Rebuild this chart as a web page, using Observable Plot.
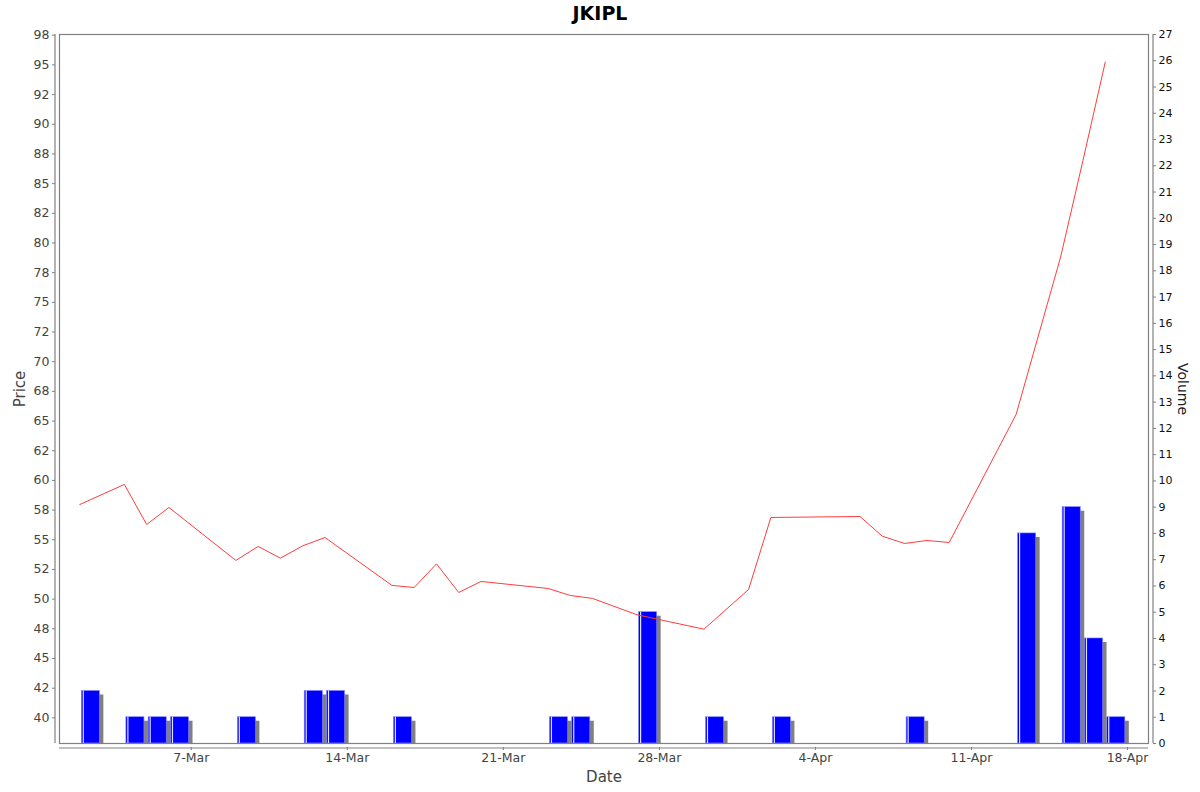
<!DOCTYPE html>
<html>
<head>
<meta charset="utf-8">
<script src="https://cdn.jsdelivr.net/npm/d3@7"></script>
<script src="https://cdn.jsdelivr.net/npm/@observablehq/plot@0.6"></script>
<style>
  html, body { margin: 0; padding: 0; background: #fff; }
  #chart { position: relative; width: 1200px; height: 792px; font-family: "DejaVu Sans", sans-serif; }
  #chart svg { position: absolute; left: 0; top: 0; background: transparent; }
  #title { position: absolute; left: 0; top: 2px; width: 1200px; text-align: center; font: bold 19px "DejaVu Sans", sans-serif; color: #000; z-index: 3; }
</style>
</head>
<body>
<div id="chart"><div id="title">JKIPL</div></div>
<script>
// ---- data ----
const priceDates = ["2020-03-02","2020-03-04","2020-03-05","2020-03-06","2020-03-09","2020-03-10","2020-03-11","2020-03-12","2020-03-13","2020-03-16","2020-03-17","2020-03-18","2020-03-19","2020-03-20","2020-03-23","2020-03-24","2020-03-25","2020-03-27","2020-03-30","2020-04-01","2020-04-02","2020-04-06","2020-04-07","2020-04-08","2020-04-09","2020-04-10","2020-04-13","2020-04-15","2020-04-16","2020-04-17"];
const prices = [57.97,59.66,56.29,57.72,53.26,54.44,53.45,54.49,55.19,51.16,50.98,52.97,50.56,51.49,50.9,50.31,50.06,48.68,47.47,50.81,56.88,56.96,55.3,54.69,54.94,54.77,65.55,78.83,86.95,95.23];

const volumeDates = ["2020-03-02","2020-03-04","2020-03-05","2020-03-06","2020-03-09","2020-03-12","2020-03-13","2020-03-16","2020-03-23","2020-03-24","2020-03-27","2020-03-30","2020-04-02","2020-04-08","2020-04-13","2020-04-15","2020-04-16","2020-04-17"];
const volumes = [2,1,1,1,1,2,2,1,1,1,5,1,1,1,8,9,4,1];

const xTickDates = ["2020-03-07","2020-03-14","2020-03-21","2020-03-28","2020-04-04","2020-04-11","2020-04-18"];
const xTickLabels = ["7-Mar","14-Mar","21-Mar","28-Mar","4-Apr","11-Apr","18-Apr"];
const priceTicks = [40,42.5,45,47.5,50,52.5,55,57.5,60,62.5,65,67.5,70,72.5,75,77.5,80,82.5,85,87.5,90,92.5,95,97.5];
const priceTickLabels = ["40","42","45","48","50","52","55","58","60","62","65","68","70","72","75","78","80","82","85","88","90","92","95","98"];
const volumeTicks = [0,1,2,3,4,5,6,7,8,9,10,11,12,13,14,15,16,17,18,19,20,21,22,23,24,25,26,27];

// ---- build tables ----
const DAY = 864e5;
const parse = s => new Date(s + "T00:00:00Z");
const priceData = priceDates.map((d, i) => ({date: parse(d), price: prices[i]}));
const volData = volumeDates.map((d, i) => {
  const t = parse(d).getTime();
  return {x1: new Date(t + 0.09 * DAY), x2: new Date(t + 0.9 * DAY), v: volumes[i]};
});
const xDomain = [new Date(parse("2020-03-01").getTime() + 0.09 * DAY), new Date(parse("2020-04-18").getTime() + 0.94 * DAY)];
const priceDomain = [37.84, 97.56];
const volDomain = [0, 27];
const tickLabelMap = new Map(priceTicks.map((t, i) => [t, priceTickLabels[i]]));
const xLabelMap = new Map(xTickDates.map((d, i) => [parse(d).getTime(), xTickLabels[i]]));

const common = {
  width: 1200, height: 792,
  marginLeft: 59, marginRight: 52, marginTop: 34, marginBottom: 49,
  style: {fontFamily: "DejaVu Sans, sans-serif", background: "transparent", overflow: "visible"}
};

// volume layer (right axis)
const volPlot = Plot.plot({
  ...common,
  x: {type: "utc", domain: xDomain, axis: null},
  y: {domain: volDomain, axis: null},
  marks: [
    Plot.rect(volData, {x1: "x1", x2: "x2", y1: 0, y2: "v", fill: "#808080", dx: 4, dy: 4, clip: true}),
    Plot.rect(volData, {x1: "x1", x2: "x2", y1: 0, y2: "v", fill: "#0000ff", stroke: "#8080ff", strokeWidth: 0.6}),
    Plot.ruleX(volData, {x: "x1", y1: 0, y2: "v", dx: 1.5, stroke: "#e0e0ff", strokeWidth: 1.2}),
    Plot.ruleX([xDomain[1]], {dx: 4.5, stroke: "#808080", strokeWidth: 1.2}),
    Plot.axisY({anchor: "right", ticks: volumeTicks, tickSize: 3, dx: 4, tickPadding: 3, fontSize: 11, stroke: "#808080", fill: "#111", label: null, tickFormat: d => String(d)}),
    Plot.text(["Volume"], {frameAnchor: "right", textAnchor: "middle", dx: 34, rotate: 90, fontSize: 14, fill: "#222"})
  ]
});

// price layer (left axis, x axis)
const pricePlot = Plot.plot({
  ...common,
  x: {type: "utc", domain: xDomain, axis: null},
  y: {domain: priceDomain, axis: null},
  marks: [
    Plot.frame({stroke: "#808080", strokeWidth: 1.2}),
    Plot.line(priceData, {x: "date", y: "price", stroke: "#ff3c3c", strokeWidth: 1}),
    Plot.ruleX([xDomain[0]], {dx: -4.5, stroke: "#808080", strokeWidth: 1.2}),
    Plot.ruleY([priceDomain[0]], {dy: 4.5, stroke: "#808080", strokeWidth: 1.2}),
    Plot.axisY({anchor: "left", ticks: priceTicks, tickSize: 3, dx: -4, tickPadding: 3, fontSize: 12.5, stroke: "#808080", fill: "#444", label: null, tickFormat: d => tickLabelMap.get(d)}),
    Plot.axisX({anchor: "bottom", ticks: xTickDates.map(parse), tickSize: 3, dy: 4, tickPadding: 3, fontSize: 12.5, stroke: "#808080", fill: "#444", label: null, tickFormat: d => xLabelMap.get(d.getTime())}),
    Plot.text(["Price"], {frameAnchor: "left", textAnchor: "middle", dx: -39, rotate: -90, fontSize: 15, fill: "#444"}),
    Plot.text(["Date"], {frameAnchor: "bottom", textAnchor: "middle", dy: 38, fontSize: 15, fill: "#444"})
  ]
});

const chart = document.getElementById("chart");
chart.appendChild(volPlot);
chart.appendChild(pricePlot);
</script>
</body>
</html>
